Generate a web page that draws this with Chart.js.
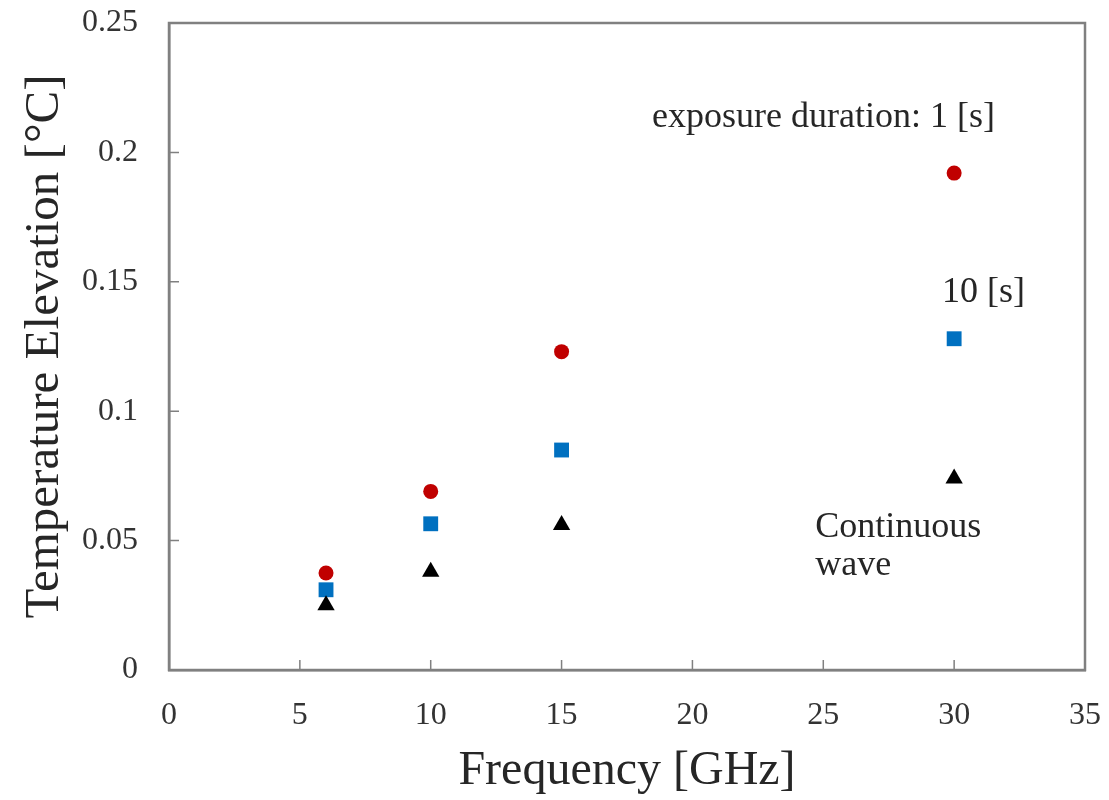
<!DOCTYPE html>
<html>
<head>
<meta charset="utf-8">
<title>Temperature elevation vs frequency</title>
<script src="https://cdn.jsdelivr.net/npm/chart.js@4.4.1/dist/chart.umd.min.js"></script>
<style>
  html, body { margin: 0; padding: 0; background: #fff; }
  #wrap { width: 1109px; height: 800px; }
</style>
</head>
<body>
<div id="wrap"><canvas id="tempChart" width="1109" height="800"></canvas></div>
<script>
// frequencies [GHz]
const freqs = [6, 10, 15, 30];

// temperature elevation [°C] per exposure duration
const dur1s = [0.0375, 0.069, 0.123, 0.192];
const dur10s = [0.031, 0.0565, 0.085, 0.128];
const contWave = [0.025, 0.038, 0.056, 0.074];

// axis ticks
const xTicks = [0, 5, 10, 15, 20, 25, 30, 35];
const yTicks = [0, 0.05, 0.1, 0.15, 0.2, 0.25];

// in-plot labels (anchored in data units, left/baseline)
const noteText = ["exposure duration: 1 [s]", "10 [s]", "Continuous", "wave"];
const noteX = [18.46, 29.54, 24.69, 24.69];
const noteY = [0.2098, 0.1422, 0.0514, 0.0367];

const SERIF = '"Liberation Serif", "Times New Roman", serif';
const AXIS_GRAY = "#808080";

const pts = vals => freqs.map((f, i) => ({ x: f, y: vals[i] }));

/* ---- box, inner tick marks and text notes ---- */
const framePlugin = {
  id: "frame",
  afterDraw(chart) {
    const { ctx, chartArea: a, scales: { x, y } } = chart;
    ctx.save();
    ctx.strokeStyle = AXIS_GRAY;
    ctx.lineWidth = 2.5;
    ctx.strokeRect(a.left, a.top, a.right - a.left, a.bottom - a.top);

    ctx.lineWidth = 1.5;
    ctx.beginPath();
    xTicks.forEach(v => {
      const px = x.getPixelForValue(v);
      ctx.moveTo(px, a.bottom);
      ctx.lineTo(px, a.bottom - 10);
    });
    yTicks.forEach(v => {
      const py = y.getPixelForValue(v);
      ctx.moveTo(a.left, py);
      ctx.lineTo(a.left + 10, py);
    });
    ctx.stroke();

    ctx.fillStyle = "#262626";
    ctx.font = "36px " + SERIF;
    ctx.textAlign = "left";
    ctx.textBaseline = "alphabetic";
    noteText.forEach((t, i) => {
      ctx.fillText(t, x.getPixelForValue(noteX[i]), y.getPixelForValue(noteY[i]));
    });
    ctx.restore();
  }
};

new Chart(document.getElementById("tempChart"), {
  type: "scatter",
  data: {
    datasets: [
      {
        label: "Continuous wave",
        data: pts(contWave),
        pointStyle: "triangle",
        pointRadius: 10,
        backgroundColor: "#000000",
        borderWidth: 0,
        order: 1
      },
      {
        label: "10 [s]",
        data: pts(dur10s),
        pointStyle: "rect",
        pointRadius: 10.5,
        backgroundColor: "#0070C0",
        borderWidth: 0,
        order: 2
      },
      {
        label: "1 [s]",
        data: pts(dur1s),
        pointStyle: "circle",
        pointRadius: 7.5,
        backgroundColor: "#C00000",
        borderWidth: 0,
        order: 3
      }
    ]
  },
  options: {
    responsive: false,
    animation: false,
    layout: { padding: { left: 0, top: 23, right: 24, bottom: 0 } },
    plugins: {
      legend: { display: false },
      tooltip: { enabled: false }
    },
    scales: {
      x: {
        type: "linear",
        min: 0,
        max: 35,
        afterBuildTicks: s => { s.ticks = xTicks.map(v => ({ value: v })); },
        afterFit: s => {
          s.height = 130;
          s.paddingLeft = 0;
          s.paddingRight = 0;
        },
        grid: { display: false, drawTicks: false },
        border: { display: true, color: AXIS_GRAY, width: 2.5 },
        ticks: {
          padding: 26,
          color: "#333333",
          font: { family: SERIF, size: 32 },
          callback: v => String(v)
        },
        title: {
          display: true,
          text: "Frequency [GHz]",
          color: "#262626",
          font: { family: SERIF, size: 48 },
          padding: { top: 0, bottom: 0 }
        }
      },
      y: {
        type: "linear",
        min: 0,
        max: 0.25,
        afterBuildTicks: s => { s.ticks = yTicks.map(v => ({ value: v })); },
        afterFit: s => {
          s.width = 169;
          s.paddingTop = 0;
          s.paddingBottom = 0;
        },
        grid: { display: false, drawTicks: false },
        border: { display: true, color: AXIS_GRAY, width: 2.5 },
        ticks: {
          padding: 31,
          color: "#333333",
          font: { family: SERIF, size: 32 },
          callback: v => String(v)
        },
        title: {
          display: true,
          text: "Temperature Elevation [°C]",
          color: "#262626",
          font: { family: SERIF, size: 49 },
          padding: { top: 16, bottom: 0 }
        }
      }
    }
  },
  plugins: [framePlugin]
});
</script>
</body>
</html>
